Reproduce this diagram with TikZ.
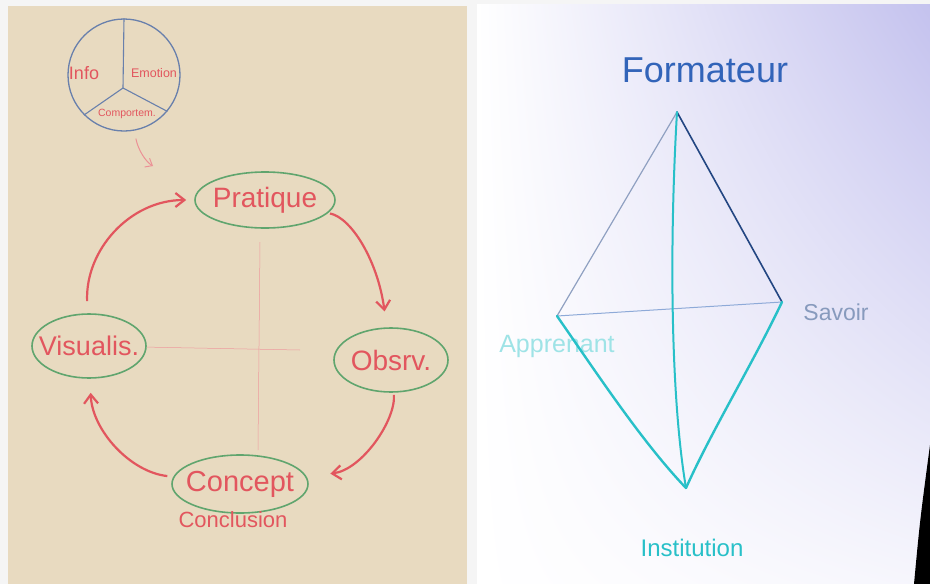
\documentclass[tikz,border=0pt]{standalone}
\usepackage{fontspec}
\setmainfont{Liberation Sans}
\usetikzlibrary{positioning,arrows.meta,shapes.geometric,shadings}
\definecolor{paper}{RGB}{232,218,192}
\definecolor{marker}{RGB}{226,86,94}
\definecolor{okgreen}{RGB}{96,165,110}
\definecolor{penblue}{RGB}{105,128,172}
\definecolor{inkblue}{RGB}{50,100,185}
\definecolor{cyanink}{RGB}{40,192,200}
\definecolor{lavender}{RGB}{196,194,238}

\begin{document}
\begin{tikzpicture}[x=1pt, y=-1pt,
      oval/.style={ellipse, draw=okgreen, line width=1.6pt, text=marker,
                   inner xsep=-18pt, inner ysep=0pt, font=\fontsize{26}{28}\selectfont},
      cyc/.style={-{Straight Barb[length=9pt,width=14pt]}, marker, line width=2.2pt},
      hint/.style={-{Straight Barb[length=6pt,width=10pt]}, marker!65, line width=1pt},
      guide/.style={marker!60, line width=0.5pt},
      side/.style={line cap=round, line width=#1},
      side/.default=1pt]
      \useasboundingbox (0,0) rectangle (930,584);
      % the two flipcharts
      \fill[gray!8] (0,0) rectangle (930,584);
      \fill[paper] (8,6) rectangle (467,584);
      \shade[upper left=white, upper right=lavender, lower left=white, lower right=white!85!lavender]
        (477,4) rectangle (930,584);
      \fill[black] (930,445) -- (930,584) -- (914,584) .. controls (920,520) .. cycle;

      % left chart: the cycle
      \node[circle, draw=penblue, line width=1.3pt, minimum size=112pt, inner sep=0pt] (ring) at (124,75) {};
      \coordinate (hub) at (123,88);
      \draw[penblue, line width=1.1pt] (hub) -- (ring.north);
      \draw[penblue, line width=1.1pt] (hub) -- (ring.-135);
      \draw[penblue, line width=1.1pt] (hub) -- (ring.-40);
      \node[text=marker, font=\fontsize{18}{19}\selectfont] (info) at (84,73) {Info};
      \node[text=marker, font=\fontsize{12.5}{13}\selectfont] (emo) at (154,73) {Emotion};
      \node[text=marker, font=\fontsize{10.5}{11}\selectfont] (comp) at (127,114) {Comportem.};

      \node[oval, minimum width=140pt, minimum height=56pt, font=\fontsize{28}{30}\selectfont] (prat) at (265,200) {Pratique};
      \node[oval, minimum width=114pt, minimum height=64pt, font=\fontsize{28}{30}\selectfont] (obs) at (391,360) {Obsrv.};
      \node[oval, minimum width=114pt, minimum height=64pt, font=\fontsize{27}{28}\selectfont] (visu) at (89,346) {Visualis.};
      \node[oval, minimum width=136pt, minimum height=58pt, font=\fontsize{29}{31}\selectfont] (conc) at (240,484) {Concept};
      \node[text=marker, font=\fontsize{22}{24}\selectfont, below=-6pt of conc, xshift=-7pt] (concl) {Conclusion};

      \coordinate (hend) at (300,350);
      \coordinate (vtop) at (260,242);
      \coordinate (vbot) at (258,450);
      \coordinate (tip) at (153,166);
      \draw[guide] (visu) -- (hend);
      \draw[guide] (vtop) -- (vbot);

      \draw[hint, shorten <=8pt] (ring) .. controls (138,150) and (146,162) .. (tip);
      \draw[cyc, shorten <=12pt, shorten >=8pt] (visu) .. controls (85,250) and (130,200) .. (prat);
      \draw[cyc, shorten <=2pt, shorten >=16pt] (prat) .. controls (352,218) and (378,262) .. (obs);
      \draw[cyc, shorten <=2pt, shorten >=24pt] (obs) .. controls (396,420) and (362,470) .. (conc);
      \draw[cyc, shorten <=6pt, shorten >=14pt] (conc) .. controls (130,472) and (92,430) .. (visu);

      % right chart: the diamond
      \coordinate (form) at (677,112);
      \coordinate (sav) at (782,302);
      \coordinate (app) at (557,316);
      \coordinate (inst) at (686,488);
      \node[text=inkblue, font=\fontsize{36}{38}\selectfont] (formlbl) at (705,70) {Formateur};
      \node[text=penblue!80, font=\fontsize{23}{25}\selectfont] (savlbl) at (836,312) {Savoir};
      \node[text=cyanink!45, font=\fontsize{25}{27}\selectfont] (applbl) at (557,346) {Apprenant};
      \node[text=cyanink, font=\fontsize{24}{26}\selectfont] (instlbl) at (692,548) {Institution};

      \draw[side=1.2pt, penblue!75] (form) -- (app);
      \draw[side=1.6pt, inkblue!70!black] (form) -- (sav);
      \draw[side=1pt, inkblue!55] (app) -- (sav);
      \draw[side=2pt, cyanink] (form) .. controls (669,250) and (671,400) .. (inst);
      \draw[side=2.4pt, cyanink] (app) .. controls (596,372) and (642,442) .. (inst);
      \draw[side=2.4pt, cyanink] (sav) .. controls (752,365) and (712,430) .. (inst);
    \end{tikzpicture}
\end{document}
